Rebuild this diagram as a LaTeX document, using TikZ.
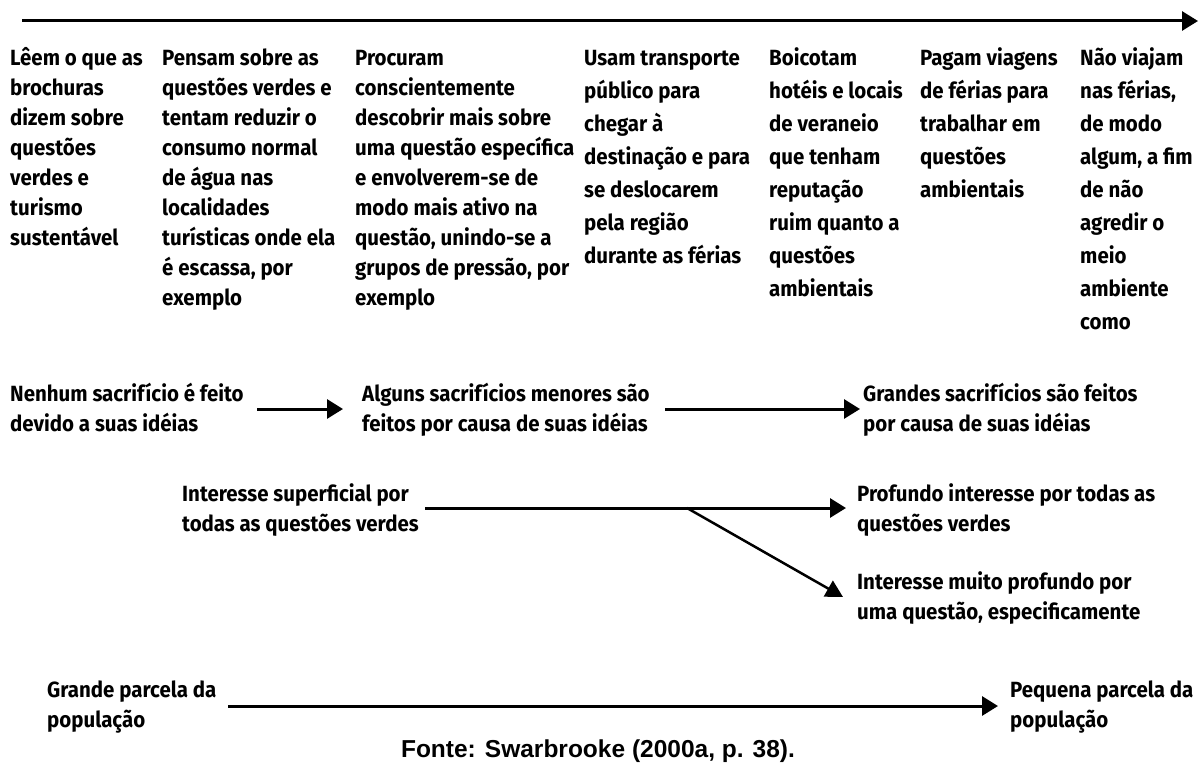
\documentclass[tikz,border=0pt]{standalone}
\usepackage{fontspec}
\usetikzlibrary{arrows.meta}
\newfontfamily\bodyfont{Fira Sans}[FakeStretch=0.93]
\newfontfamily\capfont{Liberation Sans}
\begin{document}
% nodes are anchored at the baseline of their LAST line
\begin{tikzpicture}[x=1pt,y=-1pt,
  colA/.style={inner sep=0pt,anchor=base west,align=left,font=\bodyfont\bfseries\fontsize{22}{30}\selectfont},
  colB/.style={inner sep=0pt,anchor=base west,align=left,font=\bodyfont\bfseries\fontsize{22}{33}\selectfont},
  rowtxt/.style={inner sep=0pt,anchor=base west,align=left,font=\bodyfont\bfseries\fontsize{22}{29.5}\selectfont},
  arr/.style={line width=3pt,-{Triangle[length=16pt,width=19pt]}},
  darr/.style={line width=2.5pt,-{Triangle[length=17pt,width=18pt]}}]
\useasboundingbox[fill=white] (0,0) rectangle (1198,765);

% top axis
\coordinate (ts) at (22,21);
\coordinate (te) at (1198,21);
\draw[arr] (ts) -- (te);

% columns (first baseline at 65)
\node[colA] (c1) at (10,245) {Lêem o que as\\brochuras\\dizem sobre\\questões\\verdes e\\turismo\\sustentável};
\node[colA] (c2) at (162,305) {Pensam sobre as\\questões verdes e\\tentam reduzir o\\consumo normal\\de água nas\\localidades\\turísticas onde ela\\é escassa, por\\exemplo};
\node[colA] (c3) at (355,305) {Procuram\\conscientemente\\descobrir mais sobre\\uma questão específica\\e envolverem-se de\\modo mais ativo na\\questão, unindo-se a\\grupos de pressão, por\\exemplo};
\node[colB] (c4) at (584,263) {Usam transporte\\público para\\chegar à\\destinação e para\\se deslocarem\\pela região\\durante as férias};
\node[colB] (c5) at (769,296) {Boicotam\\hotéis e locais\\de veraneio\\que tenham\\reputação\\ruim quanto a\\questões\\ambientais};
\node[colB] (c6) at (920,197) {Pagam viagens\\de férias para\\trabalhar em\\questões\\ambientais};
\node[colB] (c7) at (1080,329) {Não viajam\\nas férias,\\de modo\\algum, a fim\\de não\\agredir o\\meio\\ambiente\\como};

% row 2
\node[rowtxt] (s1) at (10,431) {Nenhum sacrifício é feito\\devido a suas idéias};
\node[rowtxt] (s2) at (362,431) {Alguns sacrifícios menores são\\feitos por causa de suas idéias};
\node[rowtxt] (s3) at (863,431) {Grandes sacrifícios são feitos\\por causa de suas idéias};
\coordinate (s1e) at (257,409);
\coordinate (s2w) at (343,409);
\coordinate (s2e) at (665,409);
\coordinate (s3w) at (860,409);
\draw[arr] (s1e) -- (s2w);
\draw[arr] (s2e) -- (s3w);

% row 3
\node[rowtxt] (i1) at (182,531) {Interesse superficial por\\todas as questões verdes};
\node[rowtxt] (i2) at (857,531) {Profundo interesse por todas as\\questões verdes};
\node[rowtxt] (i3) at (857,619) {Interesse muito profundo por\\uma questão, especificamente};
\coordinate (i1e) at (425,508);
\coordinate (i2w) at (846,508);
\coordinate (br) at (687,508);
\coordinate (i3w) at (843,597);
\draw[arr] (i1e) -- (i2w);
\draw[darr] (br) -- (i3w);

% row 4
\node[rowtxt] (p1) at (47,727) {Grande parcela da\\população};
\node[rowtxt] (p2) at (1010,727) {Pequena parcela da\\população};
\coordinate (p1e) at (228,706);
\coordinate (p2w) at (998,706);
\draw[arr] (p1e) -- (p2w);

% caption
\node[inner sep=0pt,anchor=base,font=\capfont\bfseries\fontsize{24.5}{28}\selectfont] (cap) at (598,757) {Fonte: Swarbrooke (2000a, p. 38).};
\end{tikzpicture}
\end{document}
